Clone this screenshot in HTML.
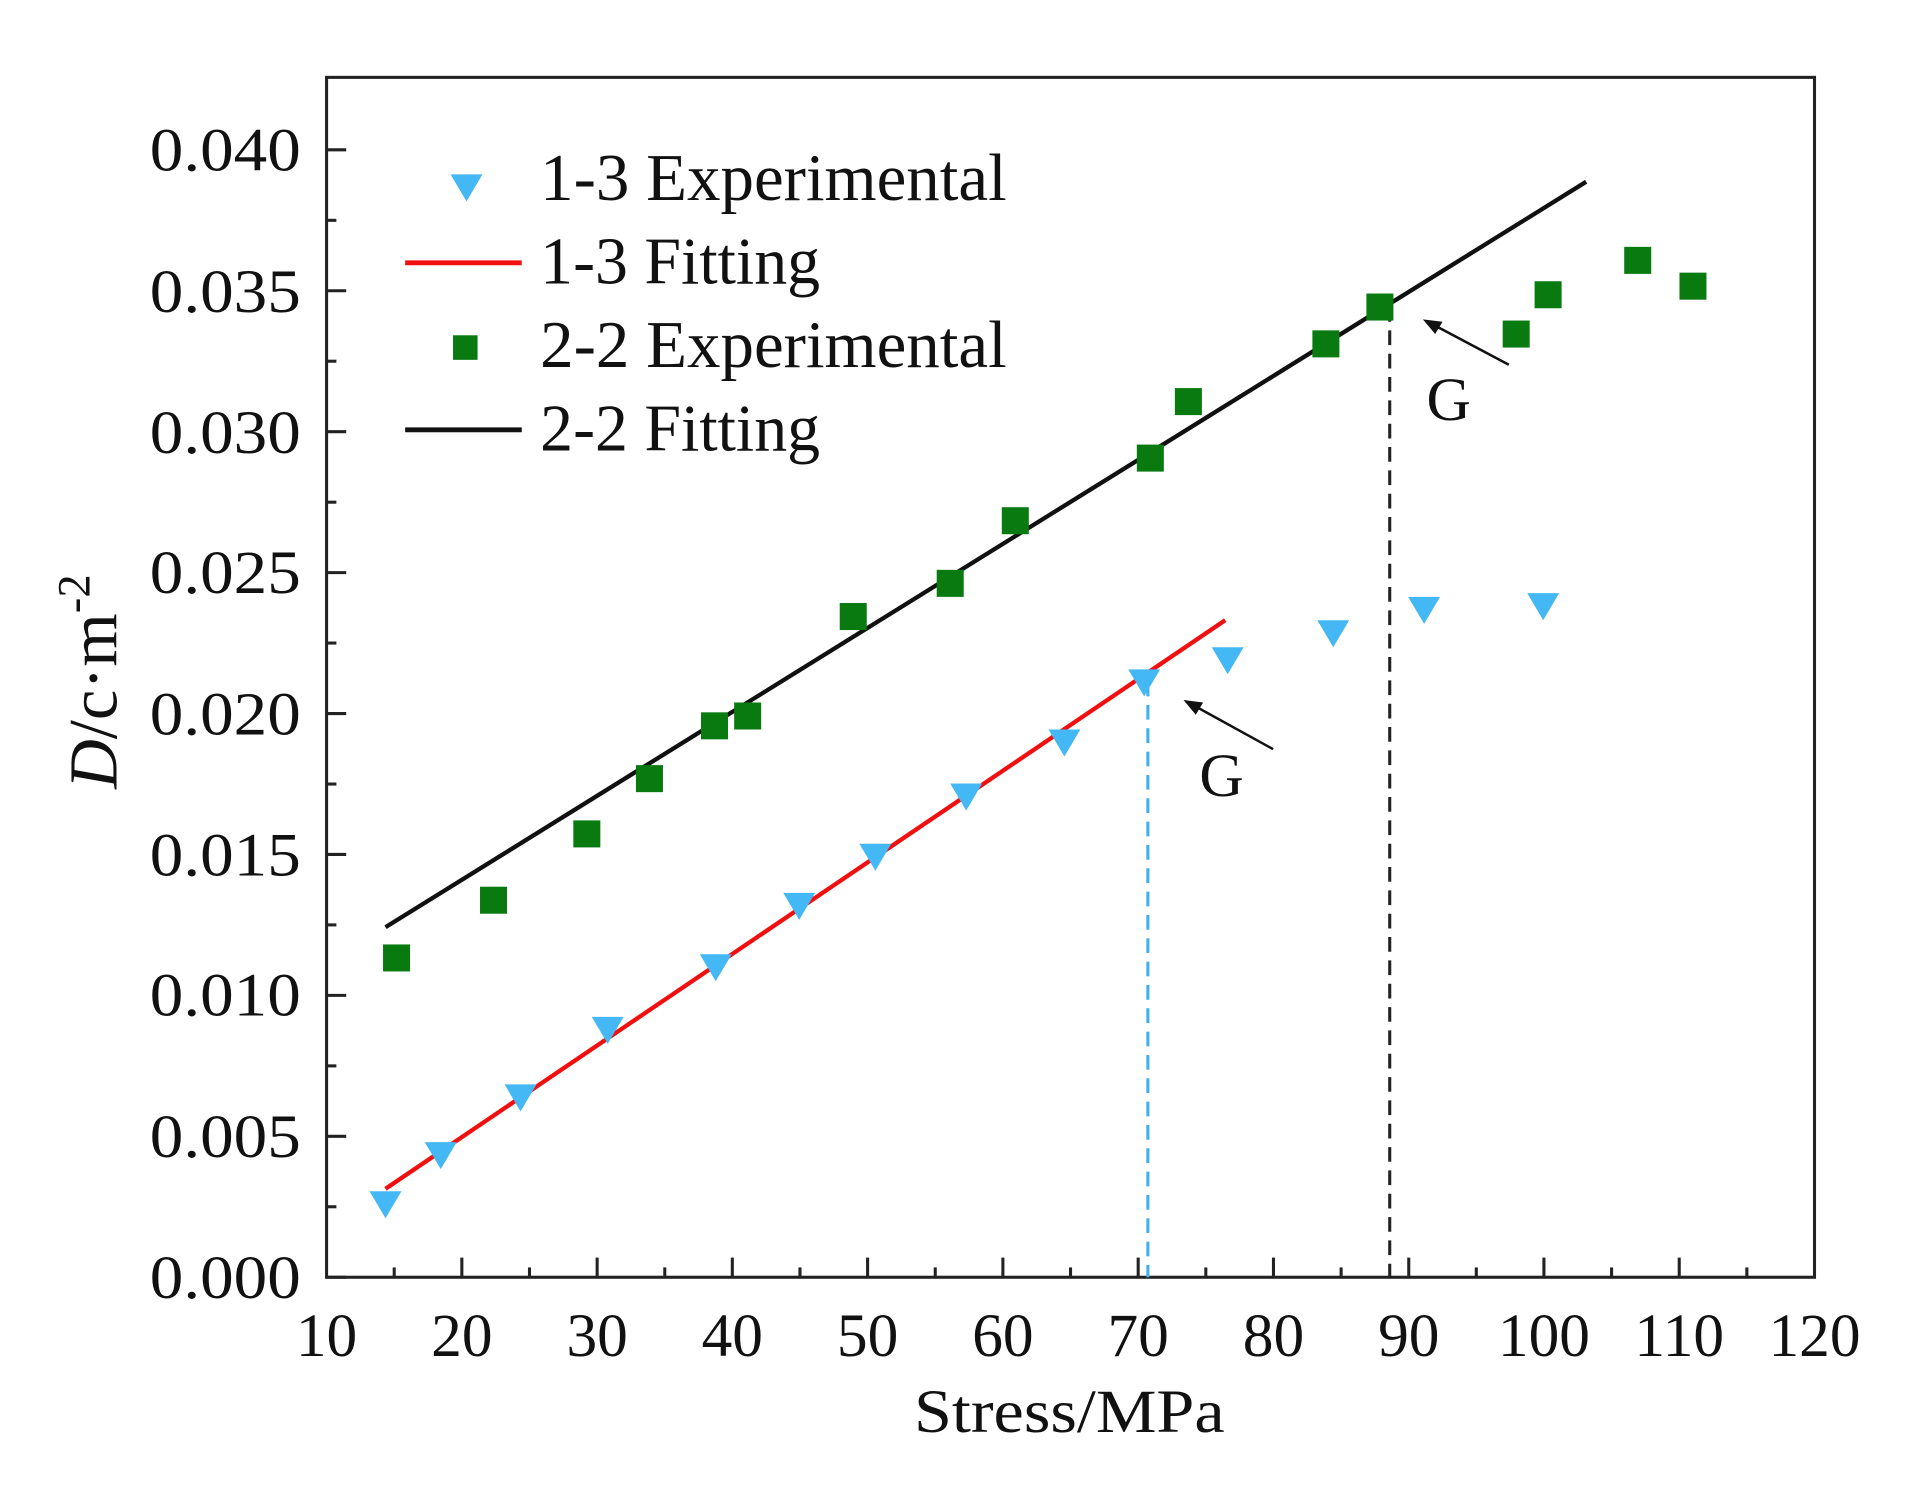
<!DOCTYPE html>
<html><head><meta charset="utf-8"><style>html,body{margin:0;padding:0;background:#fff}svg{display:block}</style></head>
<body>
<svg width="1925" height="1502" viewBox="0 0 1568 1223" preserveAspectRatio="none" xmlns="http://www.w3.org/2000/svg" font-family="Liberation Serif, serif">
<rect width="1568" height="1223" fill="#fff"/>
<rect x="266" y="63" width="1212" height="977" fill="none" stroke="#222" stroke-width="2.5"/>
<g stroke="#222" stroke-width="2.5">
<line x1="266" y1="1040" x2="282" y2="1040"/><line x1="266" y1="925.25" x2="282" y2="925.25"/><line x1="266" y1="810.5" x2="282" y2="810.5"/><line x1="266" y1="695.75" x2="282" y2="695.75"/><line x1="266" y1="581" x2="282" y2="581"/><line x1="266" y1="466.25" x2="282" y2="466.25"/><line x1="266" y1="351.5" x2="282" y2="351.5"/><line x1="266" y1="236.75" x2="282" y2="236.75"/><line x1="266" y1="122" x2="282" y2="122"/>
<line x1="266" y1="982.6" x2="274" y2="982.6"/><line x1="266" y1="867.9" x2="274" y2="867.9"/><line x1="266" y1="753.1" x2="274" y2="753.1"/><line x1="266" y1="638.4" x2="274" y2="638.4"/><line x1="266" y1="523.6" x2="274" y2="523.6"/><line x1="266" y1="408.9" x2="274" y2="408.9"/><line x1="266" y1="294.1" x2="274" y2="294.1"/><line x1="266" y1="179.4" x2="274" y2="179.4"/>
</g>
<g stroke="#222" stroke-width="2.5">
<line x1="376.2" y1="1040" x2="376.2" y2="1024"/><line x1="486.4" y1="1040" x2="486.4" y2="1024"/><line x1="596.5" y1="1040" x2="596.5" y2="1024"/><line x1="706.7" y1="1040" x2="706.7" y2="1024"/><line x1="816.9" y1="1040" x2="816.9" y2="1024"/><line x1="927.1" y1="1040" x2="927.1" y2="1024"/><line x1="1037.3" y1="1040" x2="1037.3" y2="1024"/><line x1="1147.5" y1="1040" x2="1147.5" y2="1024"/><line x1="1257.6" y1="1040" x2="1257.6" y2="1024"/><line x1="1367.8" y1="1040" x2="1367.8" y2="1024"/>
<line x1="321.1" y1="1040" x2="321.1" y2="1032"/><line x1="431.3" y1="1040" x2="431.3" y2="1032"/><line x1="541.5" y1="1040" x2="541.5" y2="1032"/><line x1="651.6" y1="1040" x2="651.6" y2="1032"/><line x1="761.8" y1="1040" x2="761.8" y2="1032"/><line x1="872" y1="1040" x2="872" y2="1032"/><line x1="982.2" y1="1040" x2="982.2" y2="1032"/><line x1="1092.4" y1="1040" x2="1092.4" y2="1032"/><line x1="1202.5" y1="1040" x2="1202.5" y2="1032"/><line x1="1312.7" y1="1040" x2="1312.7" y2="1032"/><line x1="1422.9" y1="1040" x2="1422.9" y2="1032"/>
</g>
<g font-size="50" fill="#111" text-anchor="end">
<text x="245" y="1057" textLength="123" lengthAdjust="spacingAndGlyphs">0.000</text>
<text x="245" y="942" textLength="123" lengthAdjust="spacingAndGlyphs">0.005</text>
<text x="245" y="827" textLength="123" lengthAdjust="spacingAndGlyphs">0.010</text>
<text x="245" y="713" textLength="123" lengthAdjust="spacingAndGlyphs">0.015</text>
<text x="245" y="598" textLength="123" lengthAdjust="spacingAndGlyphs">0.020</text>
<text x="245" y="483" textLength="123" lengthAdjust="spacingAndGlyphs">0.025</text>
<text x="245" y="369" textLength="123" lengthAdjust="spacingAndGlyphs">0.030</text>
<text x="245" y="254" textLength="123" lengthAdjust="spacingAndGlyphs">0.035</text>
<text x="245" y="139" textLength="123" lengthAdjust="spacingAndGlyphs">0.040</text>
</g>
<g font-size="50" fill="#111" text-anchor="middle">
<text x="266" y="1104">10</text><text x="376.2" y="1104">20</text><text x="486.4" y="1104">30</text><text x="596.5" y="1104">40</text><text x="706.7" y="1104">50</text><text x="816.9" y="1104">60</text><text x="927.1" y="1104">70</text><text x="1037.3" y="1104">80</text><text x="1147.5" y="1104">90</text><text x="1257.6" y="1104">100</text><text x="1367.8" y="1104">110</text><text x="1478" y="1104">120</text>
</g>
<text x="871" y="1166" font-size="50" text-anchor="middle" fill="#111" textLength="253" lengthAdjust="spacingAndGlyphs">Stress/MPa</text>
<text transform="translate(95,555) rotate(-90)" font-size="56" text-anchor="middle" fill="#111"><tspan font-style="italic">D</tspan>/c·m<tspan font-size="38" dy="-22">-2</tspan></text>
<line x1="935" y1="555" x2="935" y2="1040" stroke="#3fb0f0" stroke-width="2.5" stroke-dasharray="12,7"/>
<line x1="1132" y1="250" x2="1132" y2="1040" stroke="#222" stroke-width="2.5" stroke-dasharray="12,7"/>
<line x1="314" y1="968" x2="998" y2="505" stroke="#f01010" stroke-width="3.5"/>
<line x1="314" y1="755" x2="1292" y2="148" stroke="#111" stroke-width="3.5"/>
<g fill="#087a10">
<rect x="312" y="769" width="22" height="22"/><rect x="391" y="722" width="22" height="22"/><rect x="467" y="668" width="22" height="22"/><rect x="518" y="623" width="22" height="22"/><rect x="571" y="580" width="22" height="22"/><rect x="598" y="572" width="22" height="22"/><rect x="684" y="491" width="22" height="22"/><rect x="763" y="464" width="22" height="22"/><rect x="816" y="413" width="22" height="22"/><rect x="926" y="362" width="22" height="22"/><rect x="957" y="316" width="22" height="22"/><rect x="1069" y="269" width="22" height="22"/><rect x="1113" y="239" width="22" height="22"/><rect x="1224" y="261" width="22" height="22"/><rect x="1250" y="229" width="22" height="22"/><rect x="1323" y="201" width="22" height="22"/><rect x="1368" y="222" width="22" height="22"/>
</g>
<g fill="#44b8f5">
<path d="M301,970h26l-13,22z"/><path d="M346,930h26l-13,22z"/><path d="M411,883h26l-13,22z"/><path d="M482,828h26l-13,22z"/><path d="M570,777h26l-13,22z"/><path d="M638,727h26l-13,22z"/><path d="M700,687h26l-13,22z"/><path d="M774,638h26l-13,22z"/><path d="M854,594h26l-13,22z"/><path d="M919,545h26l-13,22z"/><path d="M987,527h26l-13,22z"/><path d="M1073,505h26l-13,22z"/><path d="M1147,486h26l-13,22z"/><path d="M1244,483h26l-13,22z"/>
</g>
<g stroke="#111" stroke-width="2">
<line x1="1037" y1="610" x2="968" y2="572"/><line x1="1229" y1="297" x2="1163" y2="262"/>
</g>
<path d="M964,570l16,2l-6,10z" fill="#111"/>
<path d="M1159,260l16,2l-6,10z" fill="#111"/>
<text x="995" y="648" font-size="50" text-anchor="middle" fill="#111">G</text>
<text x="1180" y="342" font-size="50" text-anchor="middle" fill="#111">G</text>
<path d="M367,142h26l-13,22z" fill="#44b8f5"/>
<line x1="330" y1="214" x2="425" y2="214" stroke="#f01010" stroke-width="4"/>
<rect x="369" y="273" width="20" height="20" fill="#087a10"/>
<line x1="330" y1="350" x2="425" y2="350" stroke="#111" stroke-width="4"/>
<g font-size="54" fill="#111">
<text x="440" y="163" textLength="380" lengthAdjust="spacingAndGlyphs">1-3 Experimental</text>
<text x="440" y="231" textLength="228" lengthAdjust="spacingAndGlyphs">1-3 Fitting</text>
<text x="440" y="299" textLength="380" lengthAdjust="spacingAndGlyphs">2-2 Experimental</text>
<text x="440" y="367" textLength="228" lengthAdjust="spacingAndGlyphs">2-2 Fitting</text>
</g>
</svg>
</body></html>
